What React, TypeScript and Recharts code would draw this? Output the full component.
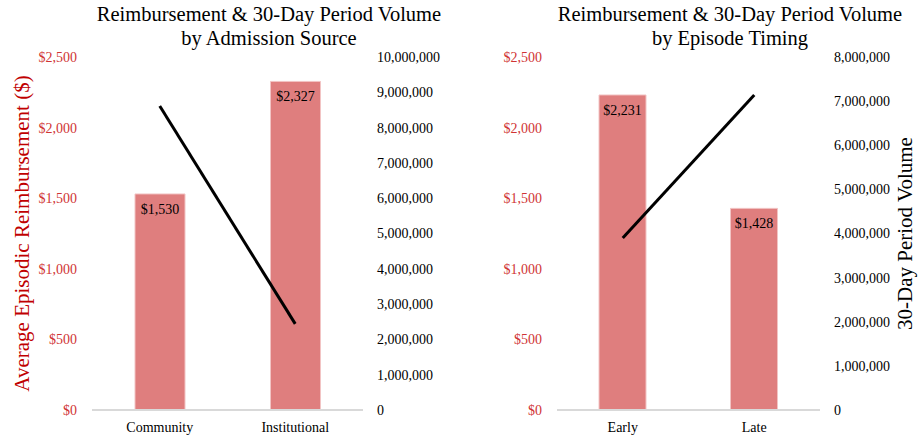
import React from "react"
import { ComposedChart, Bar, Line, XAxis, YAxis, LabelList } from "recharts"

// left panel: by admission source
const sourceCategories = ["Community", "Institutional"]
const sourceReimbursement = [1530, 2327]
const sourceVolume = [8610000, 2440000]

// right panel: by episode timing
const timingCategories = ["Early", "Late"]
const timingReimbursement = [2231, 1428]
const timingVolume = [3900000, 7140000]

const dollarTicks = [0, 500, 1000, 1500, 2000, 2500]
const sourceVolumeTicks = [0, 1000000, 2000000, 3000000, 4000000, 5000000, 6000000, 7000000, 8000000, 9000000, 10000000]
const timingVolumeTicks = [0, 1000000, 2000000, 3000000, 4000000, 5000000, 6000000, 7000000, 8000000]

const FONT = "'Liberation Serif', 'Times New Roman', serif"
const RED = "#c00000"
const TICK_RED = "#d03434"
const BAR = "#df7e7e"

const fmtDollar = (v: number) => "$" + v.toLocaleString("en-US")
const fmtNum = (v: number) => v.toLocaleString("en-US")

function buildRows(cats: string[], reimb: number[], vol: number[]) {
  return cats.map((c, i) => ({ name: c, reimbursement: reimb[i], volume: vol[i] }))
}

interface PanelProps {
  rows: { name: string; reimbursement: number; volume: number }[]
  volumeTicks: number[]
  width: number
  leftWidth: number
  rightWidth: number
  barSize: number
  leftLabel?: string
  rightLabel?: string
}

function Panel({ rows, volumeTicks, width, leftWidth, rightWidth, barSize, leftLabel, rightLabel }: PanelProps) {
  const tickStyle = { fontFamily: FONT, fontSize: 14 }
  return (
    <ComposedChart
      width={width}
      height={439}
      data={rows}
      margin={{ top: 57, right: 0, bottom: 7, left: 0 }}
      barCategoryGap="32%"
      style={{ fontFamily: FONT }}
    >
      <XAxis
        dataKey="name"
        height={22}
        tickLine={false}
        axisLine={{ stroke: "#d9d9d9", strokeWidth: 2 }}
        tick={{ ...tickStyle, fill: "#000" }}
        tickMargin={6}
        interval={0}
      />
      <YAxis
        yAxisId="left"
        orientation="left"
        width={leftWidth}
        domain={[0, 2500]}
        ticks={dollarTicks}
        tickFormatter={fmtDollar}
        axisLine={false}
        tickLine={false}
        tickSize={0}
        tickMargin={15}
        tick={{ ...tickStyle, fill: TICK_RED }}
        label={
          leftLabel
            ? {
                value: leftLabel,
                angle: -90,
                position: "insideLeft",
                offset: 22,
                style: { textAnchor: "middle", fontFamily: FONT, fontSize: 21, fill: RED },
              }
            : undefined
        }
      />
      <YAxis
        yAxisId="right"
        orientation="right"
        width={rightWidth}
        domain={[0, volumeTicks[volumeTicks.length - 1]]}
        ticks={volumeTicks}
        tickFormatter={fmtNum}
        axisLine={false}
        tickLine={false}
        tickSize={0}
        tickMargin={14}
        tick={{ ...tickStyle, fill: "#000" }}
        label={
          rightLabel
            ? {
                value: rightLabel,
                angle: -90,
                position: "insideRight",
                offset: 14,
                style: { textAnchor: "middle", fontFamily: FONT, fontSize: 21, fill: "#000" },
              }
            : undefined
        }
      />
      <Bar
        yAxisId="left"
        dataKey="reimbursement"
        fill={BAR}
        stroke="#f2c4c4"
        strokeWidth={1}
        barSize={barSize}
        isAnimationActive={false}
      >
        <LabelList
          dataKey="reimbursement"
          position="insideTop"
          offset={10}
          formatter={(v: any) => fmtDollar(Number(v))}
          style={{ fontFamily: FONT, fontSize: 14, fill: "#000" }}
        />
      </Bar>
      <Line
        yAxisId="right"
        dataKey="volume"
        stroke="#000"
        strokeWidth={3}
        dot={false}
        activeDot={false}
        isAnimationActive={false}
      />
    </ComposedChart>
  )
}

const titleStyle: React.CSSProperties = {
  position: "absolute",
  top: 2,
  width: 400,
  textAlign: "center",
  fontFamily: FONT,
  fontSize: 20.5,
  lineHeight: "24px",
  color: "#000",
}

export default function App() {
  return (
    <div style={{ position: "absolute", left: 0, top: 0, width: 919, height: 439, background: "#fff", fontFamily: FONT }}>
      <div style={{ position: "absolute", left: 0, top: 0 }}>
        <Panel
          rows={buildRows(sourceCategories, sourceReimbursement, sourceVolume)}
          volumeTicks={sourceVolumeTicks}
          width={460}
          leftWidth={92}
          rightWidth={97}
          barSize={50}
          leftLabel="Average Episodic Reimbursement ($)"
        />
      </div>
      <div style={{ position: "absolute", left: 460, top: 0 }}>
        <Panel
          rows={buildRows(timingCategories, timingReimbursement, timingVolume)}
          volumeTicks={timingVolumeTicks}
          width={459}
          leftWidth={97}
          rightWidth={99}
          barSize={47}
          rightLabel="30-Day Period Volume"
        />
      </div>
      <div style={{ ...titleStyle, left: 269 - 200 }}>
        Reimbursement &amp; 30-Day Period Volume
        <br />
        by Admission Source
      </div>
      <div style={{ ...titleStyle, left: 730 - 200 }}>
        Reimbursement &amp; 30-Day Period Volume
        <br />
        by Episode Timing
      </div>
    </div>
  )
}
